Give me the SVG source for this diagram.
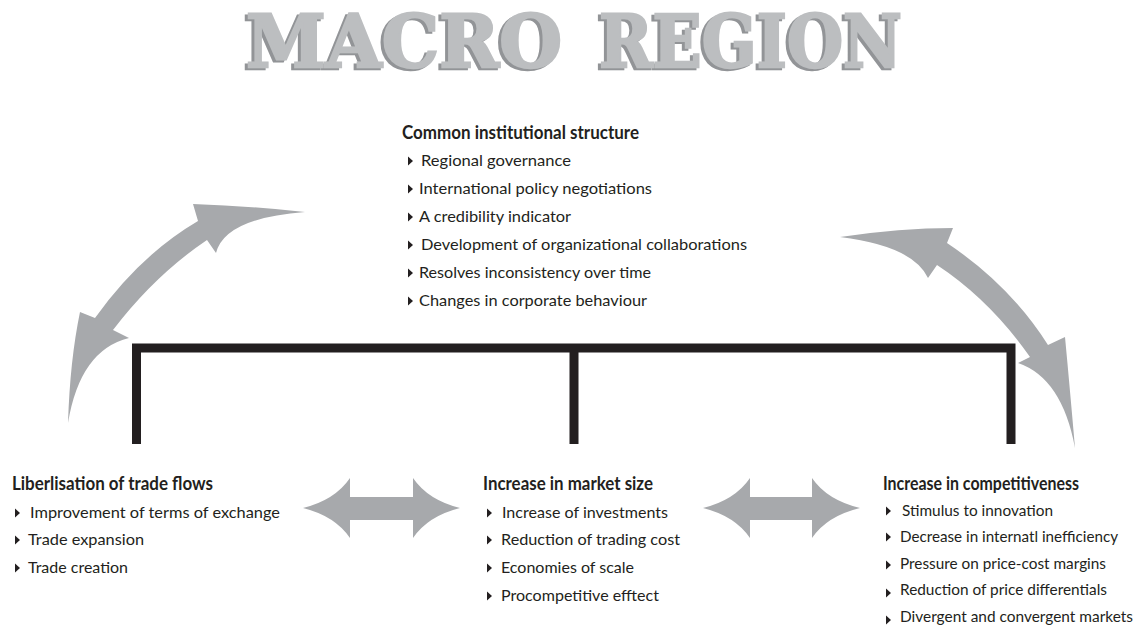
<svg xmlns="http://www.w3.org/2000/svg" xmlns:xlink="http://www.w3.org/1999/xlink" width="1138" height="626" viewBox="0 0 1138 626">
  <style>
    .title { font-family: "DejaVu Serif", "Liberation Serif", serif; font-weight: bold; font-size: 72px; fill: #bcbec0; stroke: #bcbec0; stroke-width: 2.5; stroke-linejoin: miter; filter: url(#slabShadow); }
    .head { font-family: Lato, "Open Sans", "Liberation Sans", sans-serif; font-weight: bold; font-size: 18px; fill: #231f20; }
    .item { font-family: Lato, "Open Sans", "Liberation Sans", sans-serif; font-size: 15px; fill: #231f20; }
    .bullet { fill: #231f20; }
    .bracket { fill: none; stroke: #231f20; stroke-width: 9; stroke-linejoin: miter; }
    .swoosh { fill: #a7a9ac; }
  </style>
  <defs>
    <path id="tri" d="M0,-4.5 L5,0 L0,4.5 Z"/>
    <!-- darker copy of the lettering, shifted left and down, behind the face -->
    <filter id="slabShadow" x="-5%" y="-20%" width="110%" height="140%">
      <feOffset in="SourceAlpha" dx="-3" dy="2" result="off"/>
      <feFlood flood-color="#929497"/>
      <feComposite in2="off" operator="in" result="shade"/>
      <feMerge>
        <feMergeNode in="shade"/>
        <feMergeNode in="SourceGraphic"/>
      </feMerge>
    </filter>
  </defs>

  <rect width="1138" height="626" fill="#ffffff"/>

  <g id="title">
    <text class="title" x="246" y="67" textLength="316" lengthAdjust="spacingAndGlyphs">MACRO</text>
    <text class="title" x="599" y="67" textLength="303" lengthAdjust="spacingAndGlyphs">REGION</text>
  </g>

  <!-- Connectors: bracket and curved / straight double arrows -->
  <g id="connectors">
    <path class="bracket" d="M136.5,444 V348 H1011 V444 M574,348 V444"/>
    <!-- left curved double arrow -->
    <path class="swoosh" d="M305,212 Q250,206 193,204 L198,221 Q140,255 95,318 L80,312 Q70,360 68,423 Q80,350 129,338 L113,330 Q155,275 207,240 L216,253 Q225,218 305,212 Z"/>
    <!-- right curved double arrow -->
    <path class="swoosh" d="M840,237 Q900,228 953,228 L947,243 Q1010,285 1048,345 L1065,337 Q1070,390 1075,448 Q1062,378 1018,363 L1030,357 Q990,300 937,265 L928,278 Q913,246 840,237 Z"/>
    <!-- horizontal double arrows -->
    <path class="swoosh" d="M303,508 Q335,500 350,478 V497 H413 V478 Q428,500 460,508 Q428,516 413,538 V520 H350 V538 Q335,516 303,508 Z"/>
    <path class="swoosh" d="M703,508 Q735,500 750,478 V497 H812 V478 Q827,500 860,508 Q827,516 812,538 V520 H750 V538 Q735,516 703,508 Z"/>
  </g>

  <g id="node-institutional">
    <text class="head" x="402" y="139" textLength="237" lengthAdjust="spacingAndGlyphs">Common institutional structure</text>
    <use class="bullet" xlink:href="#tri" x="408" y="161"/>
    <text class="item" x="421" y="166" textLength="150" lengthAdjust="spacingAndGlyphs">Regional governance</text>
    <use class="bullet" xlink:href="#tri" x="408" y="189"/>
    <text class="item" x="419" y="194" textLength="233" lengthAdjust="spacingAndGlyphs">International policy negotiations</text>
    <use class="bullet" xlink:href="#tri" x="408" y="217"/>
    <text class="item" x="419" y="222" textLength="152" lengthAdjust="spacingAndGlyphs">A credibility indicator</text>
    <use class="bullet" xlink:href="#tri" x="408" y="245"/>
    <text class="item" x="421" y="250" textLength="326" lengthAdjust="spacingAndGlyphs">Development of organizational collaborations</text>
    <use class="bullet" xlink:href="#tri" x="408" y="273"/>
    <text class="item" x="419" y="278" textLength="232" lengthAdjust="spacingAndGlyphs">Resolves inconsistency over time</text>
    <use class="bullet" xlink:href="#tri" x="408" y="301"/>
    <text class="item" x="419" y="306" textLength="228" lengthAdjust="spacingAndGlyphs">Changes in corporate behaviour</text>
  </g>

  <g id="node-trade">
    <text class="head" x="12" y="490" textLength="201" lengthAdjust="spacingAndGlyphs">Liberlisation of trade flows</text>
    <use class="bullet" xlink:href="#tri" x="15" y="513"/>
    <text class="item" x="30" y="518" textLength="250" lengthAdjust="spacingAndGlyphs">Improvement of terms of exchange</text>
    <use class="bullet" xlink:href="#tri" x="15" y="540"/>
    <text class="item" x="28" y="545" textLength="116" lengthAdjust="spacingAndGlyphs">Trade expansion</text>
    <use class="bullet" xlink:href="#tri" x="15" y="568"/>
    <text class="item" x="28" y="573" textLength="100" lengthAdjust="spacingAndGlyphs">Trade creation</text>
  </g>

  <g id="node-market">
    <text class="head" x="483" y="490" textLength="170" lengthAdjust="spacingAndGlyphs">Increase in market size</text>
    <use class="bullet" xlink:href="#tri" x="487" y="513"/>
    <text class="item" x="502" y="518" textLength="166" lengthAdjust="spacingAndGlyphs">Increase of investments</text>
    <use class="bullet" xlink:href="#tri" x="487" y="540"/>
    <text class="item" x="501" y="545" textLength="179" lengthAdjust="spacingAndGlyphs">Reduction of trading cost</text>
    <use class="bullet" xlink:href="#tri" x="487" y="568"/>
    <text class="item" x="501" y="573" textLength="133" lengthAdjust="spacingAndGlyphs">Economies of scale</text>
    <use class="bullet" xlink:href="#tri" x="487" y="596"/>
    <text class="item" x="501" y="601" textLength="158" lengthAdjust="spacingAndGlyphs">Procompetitive efftect</text>
  </g>

  <g id="node-competitiveness">
    <text class="head" x="883" y="490" textLength="196" lengthAdjust="spacingAndGlyphs">Increase in competitiveness</text>
    <use class="bullet" xlink:href="#tri" x="886" y="511"/>
    <text class="item" x="902" y="516" textLength="151" lengthAdjust="spacingAndGlyphs">Stimulus to innovation</text>
    <use class="bullet" xlink:href="#tri" x="886" y="537"/>
    <text class="item" x="900" y="542" textLength="218" lengthAdjust="spacingAndGlyphs">Decrease in internatl inefficiency</text>
    <use class="bullet" xlink:href="#tri" x="886" y="565"/>
    <text class="item" x="900" y="569" textLength="206" lengthAdjust="spacingAndGlyphs">Pressure on price-cost margins</text>
    <use class="bullet" xlink:href="#tri" x="886" y="593"/>
    <text class="item" x="900" y="595" textLength="207" lengthAdjust="spacingAndGlyphs">Reduction of price differentials</text>
    <use class="bullet" xlink:href="#tri" x="886" y="620"/>
    <text class="item" x="900" y="622" textLength="233" lengthAdjust="spacingAndGlyphs">Divergent and convergent markets</text>
  </g>
</svg>
